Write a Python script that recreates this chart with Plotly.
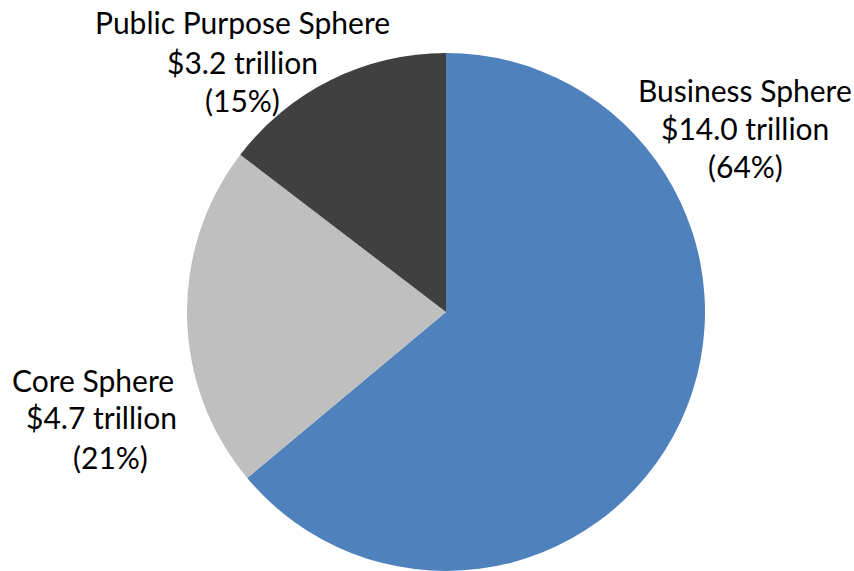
import plotly.graph_objects as go

W, H = 854, 571

labels = ["Business Sphere", "Core Sphere", "Public Purpose Sphere"]
values = [14.0, 4.7, 3.2]
percents = ["64%", "21%", "15%"]
colors = ["#4F81BD", "#BFBFBF", "#404040"]

# label block positions (pixel centers for each line) – layout only
label_pos = {
    "Business Sphere": (745, [90, 128, 166]),
    "Core Sphere": (95, [380, 417, 457]),
    "Public Purpose Sphere": (243, [22, 62, 100]),
}
line_dx = {
    "Core Sphere": [-2, 6, 15],
    "Business Sphere": [0, 0, 0],
    "Public Purpose Sphere": [0, 0, 0],
}

cx, cy, r = 446, 313, 260
fig = go.Figure(go.Pie(
    labels=labels, values=values, sort=False, direction="clockwise", rotation=0,
    marker=dict(colors=colors, line=dict(width=0)),
    textinfo="none", hoverinfo="label+value",
    domain=dict(x=[(cx - r) / W, (cx + r) / W], y=[0, min(1, (H - cy + r) / H)]),
    showlegend=False,
))

font = dict(family="Lato, Carlito, Calibri, sans-serif", size=30, color="#000000")
for lab, val, pct in zip(labels, values, percents):
    x, ys = label_pos[lab]
    lines = [lab, f"${val:.1f} trillion", f"({pct})"]
    for line, y, dx in zip(lines, ys, line_dx[lab]):
        fig.add_annotation(x=(x + dx) / W, y=1 - y / H, xref="paper", yref="paper",
                           text=line, showarrow=False, xanchor="center", yanchor="middle",
                           font=font)

fig.update_layout(width=W, height=H, margin=dict(l=0, r=0, t=0, b=0),
                  paper_bgcolor="white", plot_bgcolor="white")
fig.write_html("out.html", config={"displayModeBar": False},
               post_script="document.body.style.margin='0';document.body.style.overflow='hidden';")
